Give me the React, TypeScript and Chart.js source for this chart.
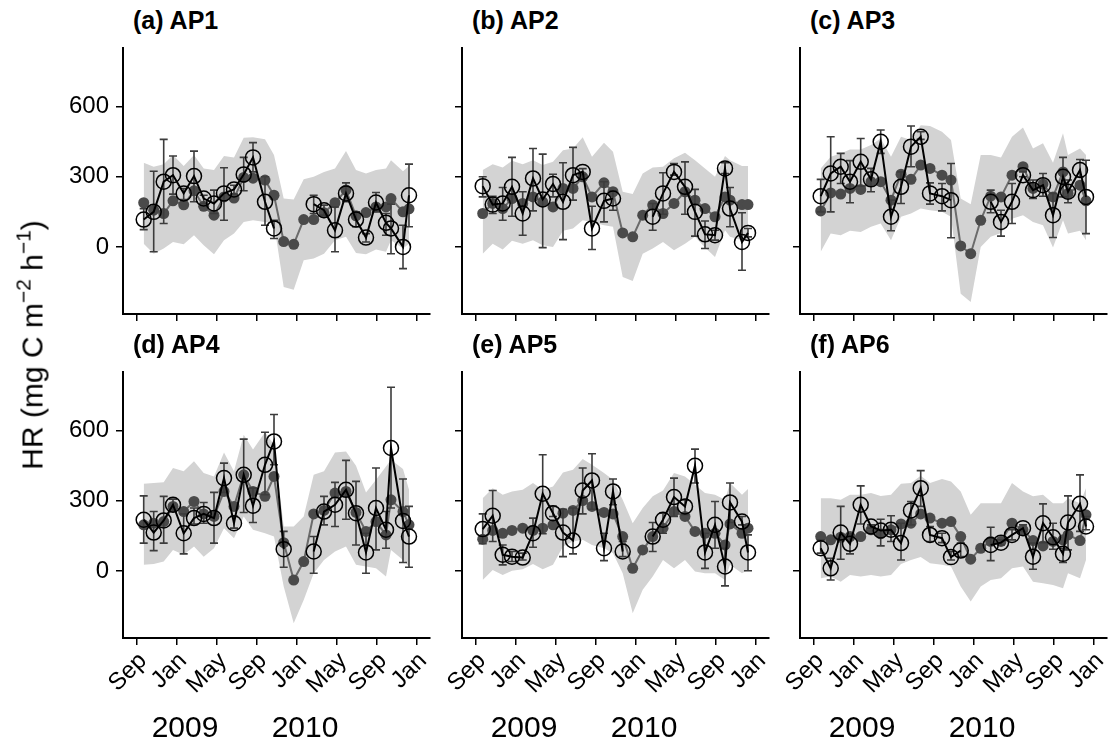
import React, { useEffect, useRef } from 'react';
import { Chart, registerables } from 'chart.js';
Chart.register(...registerables);

const FONT = '"Liberation Sans", Arial, Helvetica, sans-serif';

// sampling dates, in months since 1 Sep 2008
const months = [0.67, 1.67, 2.67, 3.6, 4.67, 5.7, 6.67, 7.7, 8.7, 9.7, 10.67, 11.6, 12.8, 13.7, 14.67, 15.67, 16.67, 17.67, 18.7, 19.8, 20.9, 21.9, 22.9, 23.9, 24.9, 25.4, 26.6, 27.2];
const tickMonths = [0, 4, 8, 12, 16, 20, 24, 28];
const tickLabels = ['Sep', 'Jan', 'May', 'Sep', 'Jan', 'May', 'Sep', 'Jan'];
const yTicks = [0, 300, 600];
const yearLabels = ['2009', '2010'];
const yearTickMonths = [4, 16];

// (a) AP1
const modelA = [189, 157, 143, 197, 180, 240, 174, 136, 214, 209, 297, 294, 286, 221, 23, 11, 117, 117, 146, 189, 243, 133, 147, 171, 171, 207, 150, 163];
const obsA = [117, 150, 279, 307, 229, 303, 207, 186, 229, 246, 310, 383, 193, 79, null, null, null, 183, 157, 71, 229, 117, 40, 190, 103, 79, 0, 221];
const obsHiA = [164, 324, 460, 389, 250, 410, 221, 243, 339, 264, 383, 446, 300, 114, null, null, null, 221, 179, 171, 274, 150, 57, 233, 143, 183, 93, 354];
const obsLoA = [74, -21, 100, 226, 203, 193, 186, 143, 114, 226, 240, 321, 93, 36, null, null, null, 143, 136, -21, 193, 86, 21, 150, 50, -29, -93, 86];
const bandHiA = [360, 343, 354, 393, 346, 393, 336, 329, 389, 383, 467, 469, 461, 393, 207, 203, 289, 300, 321, 336, 410, 329, 314, 329, 336, 371, 324, 346];
const bandLoA = [14, -29, -7, 21, 11, 50, 7, -31, 29, 57, 107, 114, 107, 100, -171, -183, -57, -50, -29, 29, 43, -26, -31, -11, -21, 29, -7, 14];

// (b) AP2
const modelB = [143, 186, 164, 207, 186, 214, 193, 171, 250, 250, 300, 214, 274, 236, 60, 43, 136, 179, 143, 186, 236, 200, 164, 129, 214, 200, 181, 181];
const obsB = [260, 181, 186, 257, 143, 293, 203, 269, 193, 307, 321, 79, 197, 207, null, null, null, 129, 229, 321, 257, 150, 54, 50, 336, 164, 21, 60];
const obsHiB = [300, 217, 254, 383, 236, 421, 397, 311, 360, 426, 335, 174, 279, 240, null, null, null, 186, 317, 357, 364, 246, 111, 71, 360, 254, 146, 79];
const obsLoB = [214, 143, 114, 131, 50, 154, -3, 214, 31, 200, 310, -11, 107, 157, null, null, null, 71, 140, 307, 140, 46, -7, 29, 314, 86, -100, 43];
const bandHiB = [329, 354, 340, 369, 354, 371, 350, 364, 414, 421, 469, 386, 446, 407, 236, 226, 314, 340, 343, 379, 403, 371, 336, 300, 389, 371, 346, 346];
const bandLoB = [-29, 14, -11, 26, 14, 29, 7, 0, 69, 79, 114, 107, 93, 86, -129, -146, -29, -7, 21, -14, 14, 43, -3, -43, 71, 43, 29, 29];

// (c) AP3
const modelC = [154, 231, 226, 250, 246, 279, 279, 200, 311, 289, 350, 336, 307, 286, 4, -29, 114, 217, 214, 307, 343, 250, 269, 214, 321, 229, 264, 197];
const obsC = [217, 314, 343, 279, 364, 289, 450, 129, 257, 429, 471, 229, 217, 200, null, null, null, 193, 107, 193, 307, 243, 264, 136, 300, 236, 329, 214];
const obsHiC = [289, 471, 400, 369, 464, 336, 500, 200, 321, 517, 493, 274, 271, 357, null, null, null, 243, 157, 271, 321, 286, 314, 229, 383, 286, 374, 371];
const obsLoC = [150, 150, 271, 189, 260, 236, 400, 69, 186, 343, 460, 183, 154, 39, null, null, null, 146, 46, 100, 300, 207, 217, 40, 214, 189, 300, 57];
const bandHiC = [336, 386, 400, 417, 417, 436, 464, 386, 471, 457, 521, 517, 493, 457, 207, 183, 393, 393, 383, 471, 511, 421, 443, 360, 486, 393, 421, 393];
const bandLoC = [-21, 57, 50, 69, 64, 86, 100, 29, 129, 143, 164, 157, 150, 129, -200, -236, 0, 43, 60, 121, 136, 107, 93, -3, 114, 57, 69, 29];

// (d) AP4
const modelD = [197, 204, 211, 276, 254, 297, 244, 233, 340, 276, 411, 340, 319, 404, 121, -39, 40, 244, 259, 333, 340, 250, 169, 211, 154, 304, 254, 197];
const obsD = [219, 164, 216, 283, 161, 226, 244, 226, 397, 204, 411, 279, 454, 554, 93, null, null, 83, 254, 283, 347, 247, 79, 269, 176, 526, 214, 147];
const obsHiD = [321, 254, 319, 307, 244, 269, 293, 336, 461, 233, 564, 354, 593, 669, 169, null, null, 147, 319, 379, 473, 383, 161, 440, 254, 786, 393, 276];
const obsLoD = [119, 87, 119, 254, 73, 201, 204, 119, 336, 183, 250, 207, 326, 454, 16, null, null, -10, 197, 190, 221, 111, -10, 90, 97, 269, 36, 16];
const bandHiD = [373, 376, 379, 440, 426, 469, 419, 404, 507, 426, 583, 519, 593, 540, 190, 190, 233, 411, 426, 507, 511, 450, 336, 390, 447, 476, 436, 347];
const bandLoD = [26, 30, 40, 90, 69, 104, 61, 97, 183, 140, 233, 176, 161, 147, -67, -224, -124, -10, 47, 83, 104, 26, 19, 11, -24, 90, 47, 19];

// (e) AP5
const modelE = [136, 173, 161, 173, 183, 173, 183, 197, 247, 259, 301, 276, 250, 244, 147, 11, 90, 147, 183, 254, 233, 169, 161, 161, 111, 201, 161, 183];
const obsE = [179, 236, 69, 61, 57, 161, 330, 247, 164, 130, 344, 387, 97, 340, 83, null, null, 147, 219, 316, 276, 450, 79, 197, 19, 293, 211, 79];
const obsHiE = [244, 344, 111, 83, 76, 226, 497, 276, 264, 269, 440, 501, 161, 393, 126, null, null, 207, 247, 397, 304, 521, 161, 297, 97, 376, 233, 154];
const obsLoE = [116, 126, 26, 40, 47, 101, 159, 233, 61, 73, 244, 264, 44, 283, 61, null, null, 83, 161, 233, 240, 376, 11, 97, -64, 207, 197, 1];
const bandHiE = [311, 354, 326, 340, 347, 376, 347, 361, 421, 433, 479, 454, 419, 390, 304, 204, 269, 319, 344, 419, 404, 369, 333, 326, 304, 376, 326, 350];
const bandLoE = [-39, 4, -17, 1, 7, 30, 7, 26, 104, 126, 133, 111, 97, 76, -10, -181, -81, -24, 47, 11, 47, -3, -10, -10, -39, 26, -10, 4];

// (f) AP6
const modelF = [147, 133, 144, 147, 147, 176, 159, 176, 201, 204, 244, 226, 204, 211, 147, 50, 97, 126, 126, 204, 176, 130, 107, 126, 133, 154, 130, 240];
const obsF = [97, 11, 164, 116, 283, 190, 173, 176, 119, 259, 354, 154, 140, 59, 87, null, null, 111, 121, 154, 183, 61, 204, 144, 73, 207, 287, 190];
const obsHiF = [133, 54, 276, 159, 364, 197, 221, 236, 204, 297, 429, 190, 161, 83, 119, null, null, 187, 133, 176, 197, 119, 287, 204, 97, 321, 411, 233];
const obsLoF = [76, -39, 50, 73, 201, 183, 107, 126, 47, 197, 276, 126, 121, 47, 61, null, null, 44, 111, 133, 169, 7, 121, 93, 36, 90, 169, 176];
const bandHiF = [311, 311, 304, 326, 326, 333, 321, 326, 373, 376, 407, 376, 393, 383, 340, 240, 290, 290, 290, 376, 340, 319, 326, 290, 290, 311, 290, 354];
const bandLoF = [-31, -24, -46, -17, -24, -17, -24, -17, 30, 47, 59, 33, 26, 19, -67, -131, -67, -39, -31, 11, 19, -46, -53, -60, -74, -10, -31, 47];

type Series = (number | null)[];
interface PanelDef {
  title: string;
  model: Series; obs: Series; hi: Series; lo: Series; bandHi: Series; bandLo: Series;
  left: number; top: number; showX: boolean; showY: boolean;
}

const PLOT_W = 307;
const PLOT_H = 266;
const Y_AXIS_W = 80;
const X_AXIS_H = 75;
const PAD_T = 5;
const PAD_R = 10;
const X_MIN = -1.4;
const X_MAX = 29.3;
const Y_MIN = -287;
const Y_MAX = 851;

const panels: PanelDef[] = [
  { title: '(a) AP1', model: modelA, obs: obsA, hi: obsHiA, lo: obsLoA, bandHi: bandHiA, bandLo: bandLoA, left: 123, top: 48, showX: false, showY: true },
  { title: '(b) AP2', model: modelB, obs: obsB, hi: obsHiB, lo: obsLoB, bandHi: bandHiB, bandLo: bandLoB, left: 462, top: 48, showX: false, showY: false },
  { title: '(c) AP3', model: modelC, obs: obsC, hi: obsHiC, lo: obsLoC, bandHi: bandHiC, bandLo: bandLoC, left: 800, top: 48, showX: false, showY: false },
  { title: '(d) AP4', model: modelD, obs: obsD, hi: obsHiD, lo: obsLoD, bandHi: bandHiD, bandLo: bandLoD, left: 123, top: 372, showX: true, showY: true },
  { title: '(e) AP5', model: modelE, obs: obsE, hi: obsHiE, lo: obsLoE, bandHi: bandHiE, bandLo: bandLoE, left: 462, top: 372, showX: true, showY: false },
  { title: '(f) AP6', model: modelF, obs: obsF, hi: obsHiF, lo: obsLoF, bandHi: bandHiF, bandLo: bandLoF, left: 800, top: 372, showX: true, showY: false },
];

const toPts = (s: Series) => months.map((m, i) => ({ x: m, y: s[i] }));

const errorBarPlugin = {
  id: 'errbars',
  beforeDatasetDraw(chart: any, args: any, opts: any) {
    if (args.index !== 0 || !opts || !opts.hi) return;
    const xs = chart.scales.x;
    const ys = chart.scales.y;
    const ctx = chart.ctx;
    ctx.save();
    ctx.strokeStyle = '#3c3c3c';
    ctx.lineWidth = 1.6;
    months.forEach((m: number, i: number) => {
      const h = opts.hi[i];
      const l = opts.lo[i];
      if (h == null || l == null) return;
      const px = xs.getPixelForValue(m);
      const yh = ys.getPixelForValue(h);
      const yl = ys.getPixelForValue(l);
      ctx.beginPath();
      ctx.moveTo(px, yh); ctx.lineTo(px, yl);
      ctx.moveTo(px - 4, yh); ctx.lineTo(px + 4, yh);
      ctx.moveTo(px - 4, yl); ctx.lineTo(px + 4, yl);
      ctx.stroke();
    });
    ctx.restore();
  },
};

const zeroPad = (s: any) => {
  s.paddingTop = 0;
  s.paddingBottom = 0;
  s.paddingLeft = 0;
  s.paddingRight = 0;
};

function PanelChart({ p }: { p: PanelDef }) {
  const ref = useRef<HTMLCanvasElement | null>(null);
  useEffect(() => {
    if (!ref.current) return;
    const chart = new Chart(ref.current, {
      type: 'line',
      data: {
        datasets: [
          {
            label: 'Observed',
            data: toPts(p.obs) as any,
            borderColor: '#000',
            borderWidth: 2,
            pointRadius: 7.5,
            pointBackgroundColor: 'rgba(0,0,0,0)',
            pointBorderColor: '#000',
            pointBorderWidth: 1.5,
            spanGaps: false,
            tension: 0,
            fill: false,
            order: 0,
          },
          {
            label: 'Modelled',
            data: toPts(p.model) as any,
            borderColor: '#6b6b6b',
            borderWidth: 2,
            pointRadius: 5.5,
            pointBackgroundColor: '#4a4a4a',
            pointBorderWidth: 0,
            tension: 0,
            fill: false,
            order: 1,
          },
          {
            label: 'Upper',
            data: toPts(p.bandHi) as any,
            borderWidth: 0,
            borderColor: 'rgba(0,0,0,0)',
            pointRadius: 0,
            backgroundColor: '#d3d3d3',
            fill: '+1',
            tension: 0,
            order: 2,
          },
          {
            label: 'Lower',
            data: toPts(p.bandLo) as any,
            borderWidth: 0,
            borderColor: 'rgba(0,0,0,0)',
            pointRadius: 0,
            fill: false,
            tension: 0,
            order: 3,
          },
        ],
      },
      options: {
        animation: false,
        responsive: false,
        devicePixelRatio: 1,
        layout: { autoPadding: false, padding: { top: PAD_T, right: PAD_R, left: 0, bottom: 0 } },
        plugins: {
          legend: { display: false },
          tooltip: { enabled: false },
          title: { display: false },
          filler: { drawTime: 'beforeDatasetsDraw' },
          errbars: { hi: p.hi, lo: p.lo },
        } as any,
        scales: {
          x: {
            type: 'linear',
            min: X_MIN,
            max: X_MAX,
            grid: { drawOnChartArea: false, drawTicks: true, tickLength: 7, color: '#000', lineWidth: 1.5 },
            border: { display: true, color: '#000', width: 2 },
            ticks: {
              autoSkip: false,
              minRotation: 45,
              maxRotation: 45,
              padding: 2,
              labelOffset: 6,
              color: '#000',
              font: { size: 24, family: FONT },
              callback: (v: any) => {
                if (!p.showX) return '';
                const k = tickMonths.indexOf(Number(v));
                return k >= 0 ? tickLabels[k] : '';
              },
            },
            afterBuildTicks: (s: any) => { s.ticks = tickMonths.map((v) => ({ value: v })); },
            afterFit: (s: any) => { s.height = X_AXIS_H; zeroPad(s); },
          },
          y: {
            type: 'linear',
            min: Y_MIN,
            max: Y_MAX,
            grid: { drawOnChartArea: false, drawTicks: true, tickLength: 7, color: '#000', lineWidth: 1.5 },
            border: { display: true, color: '#000', width: 2 },
            ticks: {
              padding: 7,
              color: '#000',
              font: { size: 24, family: FONT },
              callback: (v: any) => (p.showY ? String(v) : ''),
            },
            afterBuildTicks: (s: any) => { s.ticks = yTicks.map((v) => ({ value: v })); },
            afterFit: (s: any) => { s.width = Y_AXIS_W; zeroPad(s); },
          },
        },
      } as any,
      plugins: [errorBarPlugin as any],
    });
    return () => chart.destroy();
  }, [p]);

  const cw = Y_AXIS_W + PLOT_W + PAD_R;
  const ch = PAD_T + PLOT_H + X_AXIS_H;
  return (
    <>
      <canvas
        ref={ref}
        width={cw}
        height={ch}
        style={{ position: 'absolute', left: p.left - Y_AXIS_W, top: p.top - PAD_T, width: cw, height: ch }}
      />
      <div
        style={{
          position: 'absolute', left: p.left + 10, top: p.top - 42, fontFamily: FONT,
          fontWeight: 'bold', fontSize: 25, lineHeight: '28px', whiteSpace: 'nowrap', color: '#000',
        }}
      >
        {p.title}
      </div>
      {p.showX &&
        yearLabels.map((yl, k) => {
          const cx = p.left + ((yearTickMonths[k] - X_MIN) / (X_MAX - X_MIN)) * PLOT_W + 8;
          return (
            <div
              key={yl}
              style={{
                position: 'absolute', left: cx, top: 711, transform: 'translateX(-50%)', fontFamily: FONT,
                fontSize: 30, lineHeight: '32px', whiteSpace: 'nowrap', color: '#000',
              }}
            >
              {yl}
            </div>
          );
        })}
    </>
  );
}

export default function App() {
  return (
    <div style={{ position: 'absolute', left: 0, top: 0, width: 1112, height: 747, overflow: 'hidden', background: '#fff' }}>
      {panels.map((p) => (
        <PanelChart key={p.title} p={p} />
      ))}
      <div
        style={{
          position: 'absolute', left: 34, top: 345, transform: 'translate(-50%, -50%) rotate(-90deg)',
          fontFamily: FONT, fontSize: 30, whiteSpace: 'nowrap', color: '#000', lineHeight: '34px',
        }}
      >
        HR (mg C m<span style={{ fontSize: '0.7em', position: 'relative', top: '-0.55em' }}>−2</span> h
        <span style={{ fontSize: '0.7em', position: 'relative', top: '-0.55em' }}>−1</span>)
      </div>
    </div>
  );
}
